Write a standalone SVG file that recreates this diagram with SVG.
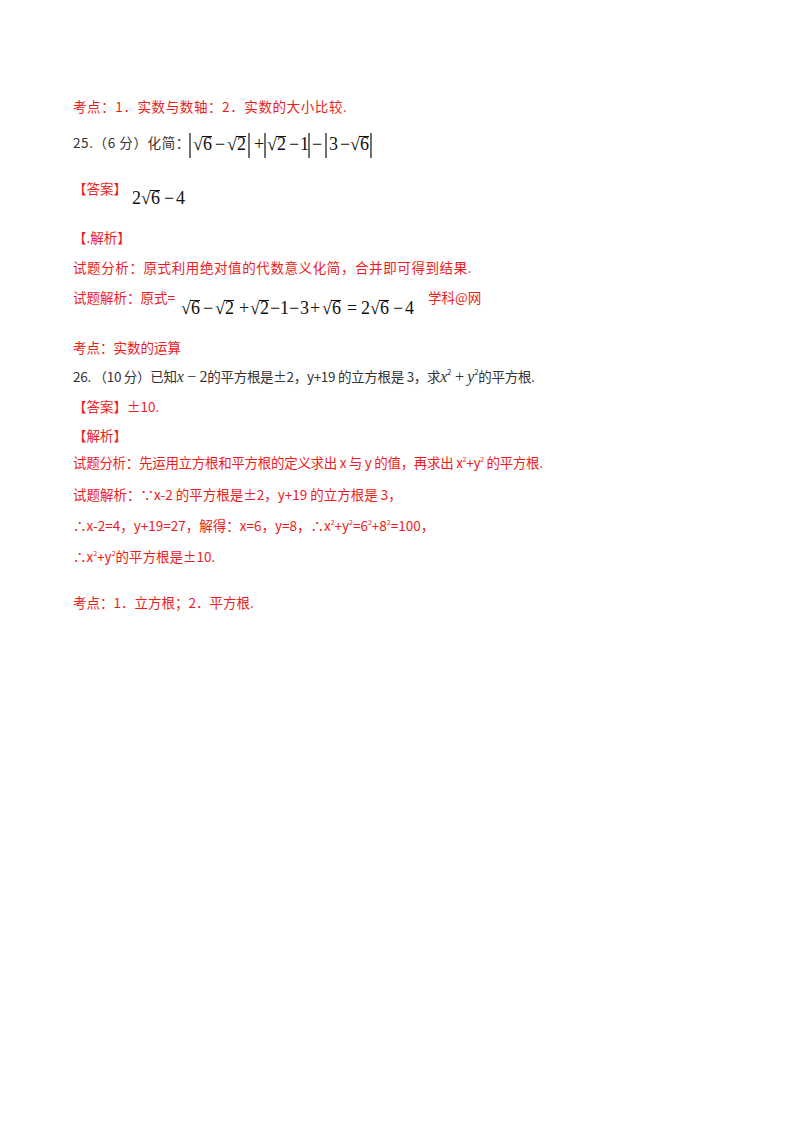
<svg xmlns="http://www.w3.org/2000/svg" width="800" height="1132" viewBox="0 0 800 1132">
<style>
.r{fill:#ee1c1c;font-family:"Noto Sans CJK SC","Liberation Serif",serif;font-size:13.5px}
.w{letter-spacing:0.6px}
.n{letter-spacing:-0.3px}
.k{fill:#333;font-family:"Noto Sans CJK SC","Liberation Serif",serif;font-size:13.5px}
.m text,.m{fill:#111;font-family:"Liberation Serif",serif;font-size:18px}
.i{font-style:italic}
.v{stroke:#111;stroke-width:1}
.b{stroke:#111;stroke-width:1.2}
</style>
<rect width="800" height="1132" fill="#fff"/>
<text class="r w" x="73" y="112">考点：1．实数与数轴：2．实数的大小比较.</text>
<text class="k w" x="73" y="148">25.（6 分）化简：</text>
<g class="m">
<text x="193" y="150">√</text><text x="203" y="150">6</text>
<text x="215" y="150">−</text>
<text x="227" y="150">√</text><text x="237" y="150">2</text>
<text x="254" y="150">+</text>
<text x="267" y="150">√</text><text x="277" y="150">2</text>
<text x="289" y="150">−</text><text x="300" y="150">1</text>
<text x="312" y="150">−</text>
<text x="329" y="150">3</text>
<text x="340" y="150">−</text>
<text x="350" y="150">√</text><text x="360" y="150">6</text>
</g>
<g>
<line class="b" x1="190" y1="133" x2="190" y2="158"/>
<line class="b" x1="249" y1="133" x2="249" y2="158"/>
<line class="b" x1="265" y1="133" x2="265" y2="158"/>
<line class="b" x1="309" y1="133" x2="309" y2="158"/>
<line class="b" x1="326" y1="133" x2="326" y2="158"/>
<line class="b" x1="371" y1="133" x2="371" y2="158"/>
<line class="v" x1="202" y1="136.5" x2="212" y2="136.5"/>
<line class="v" x1="236" y1="136.5" x2="246" y2="136.5"/>
<line class="v" x1="276" y1="136.5" x2="286" y2="136.5"/>
<line class="v" x1="359" y1="136.5" x2="369" y2="136.5"/>
</g>
<text class="r" x="73" y="194">【答案】</text>
<g class="m">
<text x="132" y="204">2</text><text x="141" y="204">√</text><text x="151" y="204">6</text>
<text x="164" y="204">−</text><text x="176" y="204">4</text>
</g>
<line class="v" x1="150" y1="190.5" x2="160" y2="190.5"/>
<text class="r" x="73" y="243">【.解析】</text>
<text class="r w" x="73" y="273">试题分析：原式利用绝对值的代数意义化简，合并即可得到结果.</text>
<text class="r" x="73" y="303">试题解析：原式=</text>
<g class="m">
<text x="181" y="314">√</text><text x="191" y="314">6</text>
<text x="203" y="314">−</text>
<text x="215" y="314">√</text><text x="225" y="314">2</text>
<text x="239" y="314">+</text>
<text x="250" y="314">√</text><text x="260" y="314">2</text>
<text x="270" y="314">−</text><text x="280" y="314">1</text>
<text x="289" y="314">−</text><text x="300" y="314">3</text>
<text x="310" y="314">+</text>
<text x="322" y="314">√</text><text x="332" y="314">6</text>
<text x="347" y="314">=</text>
<text x="361" y="314">2</text><text x="370" y="314">√</text><text x="380" y="314">6</text>
<text x="393" y="314">−</text><text x="405" y="314">4</text>
</g>
<line class="v" x1="190" y1="300.5" x2="200" y2="300.5"/>
<line class="v" x1="224" y1="300.5" x2="234" y2="300.5"/>
<line class="v" x1="259" y1="300.5" x2="269" y2="300.5"/>
<line class="v" x1="331" y1="300.5" x2="341" y2="300.5"/>
<line class="v" x1="379" y1="300.5" x2="389" y2="300.5"/>
<text class="r" x="428" y="303">学科@网</text>
<text class="r" x="73" y="353">考点：实数的运算</text>
<text class="k n" x="73" y="382">26. （10 分）已知<tspan class="i" font-family="Liberation Serif" font-size="16">x</tspan><tspan font-family="Liberation Serif" font-size="16"> − 2</tspan>的平方根是±2，y+19 的立方根是 3，求<tspan class="i" font-family="Liberation Serif" font-size="16">x</tspan><tspan font-size="8" dy="-7">2</tspan><tspan dy="7" font-family="Liberation Serif" font-size="16"> + </tspan><tspan class="i" font-family="Liberation Serif" font-size="16">y</tspan><tspan font-size="8" dy="-7">2</tspan><tspan dy="7">的平方根.</tspan></text>
<text class="r" x="73" y="412">【答案】±10.</text>
<text class="r" x="73" y="441">【解析】</text>
<text class="r n" x="73" y="468">试题分析：先运用立方根和平方根的定义求出 x 与 y 的值，再求出 x<tspan font-size="7" dy="-6">2</tspan><tspan dy="6">+y</tspan><tspan font-size="7" dy="-6">2</tspan><tspan dy="6"> 的平方根.</tspan></text>
<text class="r" x="73" y="500">试题解析：∵x-2 的平方根是±2，y+19 的立方根是 3，</text>
<text class="r" x="73" y="531">∴x-2=4，y+19=27，解得：x=6，y=8，∴x<tspan font-size="7" dy="-6">2</tspan><tspan dy="6">+y</tspan><tspan font-size="7" dy="-6">2</tspan><tspan dy="6">=6</tspan><tspan font-size="7" dy="-6">2</tspan><tspan dy="6">+8</tspan><tspan font-size="7" dy="-6">2</tspan><tspan dy="6">=100，</tspan></text>
<text class="r" x="73" y="562">∴x<tspan font-size="7" dy="-6">2</tspan><tspan dy="6">+y</tspan><tspan font-size="7" dy="-6">2</tspan><tspan dy="6">的平方根是±10.</tspan></text>
<text class="r" x="73" y="608">考点：1．立方根；2．平方根.</text>
</svg>
